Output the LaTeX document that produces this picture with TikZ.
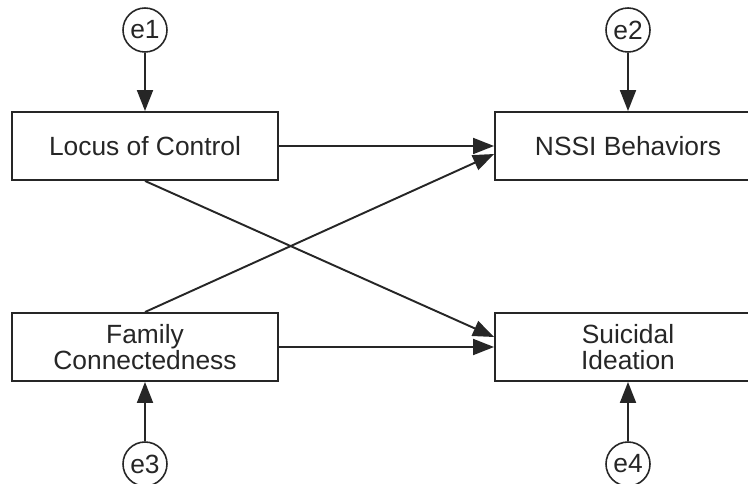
\documentclass[tikz,border=0pt]{standalone}
\usepackage{fontspec}
\setmainfont{Liberation Sans}
\usetikzlibrary{arrows.meta}
\tikzset{
  varbox/.style={draw=black!85,line width=1.1pt,minimum width=5.32cm,minimum height=1.36cm,align=center,inner sep=0pt,font=\fontsize{15}{15}\selectfont,text=black!85},
  errcirc/.style={draw=black!85,line width=0.9pt,circle,minimum size=0.88cm,inner sep=0pt,font=\fontsize{15}{15}\selectfont,text=black!85},
  path/.style={draw=black!85,line width=1.1pt,-{Triangle[length=0.42cm,width=0.32cm]}}
}
\begin{document}
\begin{tikzpicture}
\useasboundingbox (0,0) rectangle (14.96,-9.68);
\node[varbox] (loc) at (2.9,-2.92) {Locus of Control};
\node[varbox] (nssi) at (12.56,-2.92) {NSSI Behaviors};
\node[varbox] (fam) at (2.9,-6.94) {Family\\Connectedness};
\node[varbox] (sui) at (12.56,-6.94) {Suicidal\\Ideation};
\node[errcirc] (e1) at (2.9,-0.6) {e1};
\node[errcirc] (e2) at (12.56,-0.6) {e2};
\node[errcirc] (e3) at (2.9,-9.28) {e3};
\node[errcirc] (e4) at (12.56,-9.28) {e4};
\draw[path] (e1) -- (loc);
\draw[path] (e2) -- (nssi);
\draw[path] (e3) -- (fam);
\draw[path] (e4) -- (sui);
\draw[path] (loc.east) -- (nssi.west);
\draw[path] (fam.east) -- (sui.west);
\draw[path] (loc.south) -- ([yshift=0.2cm]sui.west);
\draw[path] (fam.north) -- ([yshift=-0.16cm]nssi.west);
\end{tikzpicture}
\end{document}
